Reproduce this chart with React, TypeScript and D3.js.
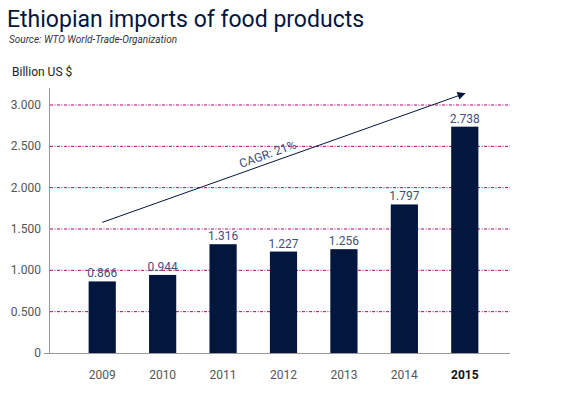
import * as React from 'react'
import * as d3 from 'd3'

const years = ['2009', '2010', '2011', '2012', '2013', '2014', '2015']
const imports = [0.866, 0.944, 1.316, 1.227, 1.256, 1.797, 2.738]
const yTicks = [0, 0.5, 1, 1.5, 2, 2.5, 3]
const tickLabels = ['0', '0.500', '1.000', '1.500', '2.000', '2.500', '3.000']
const cagrLabel = 'CAGR: 21%'
const cagrFrom = 1.58
const cagrTo = 3.14

const W = 583
const H = 398
const navy = '#03163d'
const grid = '#b0006e'

export default function App () {
    const x = d3.scaleBand<string>()
        .domain(years)
        .range([72, 495])
        .paddingInner(0.55)
        .paddingOuter(0.275)
    const y = d3.scaleLinear().domain([0, 3]).range([353, 105])

    const cx = (yr: string) => (x(yr) ?? 0) + x.bandwidth() / 2
    const x1 = cx(years[0]), y1 = y(cagrFrom)
    const x2 = cx(years[years.length - 1]), y2 = y(cagrTo)
    const angle = Math.atan2(y2 - y1, x2 - x1) * 180 / Math.PI
    const mx = x1 + (x2 - x1) * 0.46, my = y1 + (y2 - y1) * 0.46

    return <svg width={W} height={H} style={{ position: 'absolute', left: 0, top: 0, fontFamily: 'Roboto, sans-serif' }}>
        <defs>
            <marker id='arr' viewBox='0 0 10 10' refX='9' refY='5' markerWidth='11' markerHeight='8' orient='auto' markerUnits='userSpaceOnUse'>
                <path d='M0,0 L10,5 L0,10 z' fill={navy} />
            </marker>
        </defs>
        <rect width={W} height={H} fill='#fff' />
        <text x={7} y={27} fontSize={23} fill={navy}>Ethiopian imports of food products</text>
        <text x={9} y={43} fontSize={10} fontStyle='italic' fill='#333'>Source: WTO World-Trade-Organization</text>
        <text x={12} y={76} fontSize={12} fill='#222'>Billion US $</text>

        {yTicks.map((t, i) => <g key={t}>
            {t > 0 && <line x1={50} x2={510} y1={y(t)} y2={y(t)} stroke={grid} strokeWidth={1} strokeDasharray='3,1.5,1,1.5' />}
            <text x={41} y={y(t) + 4} fontSize={12} textAnchor='end' fill='#555'>{tickLabels[i]}</text>
        </g>)}
        <line x1={49.5} x2={49.5} y1={88} y2={353} stroke='#999' />
        <line x1={44} x2={510} y1={353.5} y2={353.5} stroke='#999' />

        {years.map((yr, i) => <g key={yr}>
            <rect x={x(yr)} y={y(imports[i])} width={x.bandwidth()} height={353 - y(imports[i])} fill={navy} />
            <text x={cx(yr)} y={y(imports[i]) - 4} fontSize={12} textAnchor='middle' fill='#3f4f7a'>{imports[i].toFixed(3)}</text>
            <text x={cx(yr)} y={379} fontSize={12} textAnchor='middle' fill={i === years.length - 1 ? '#111' : '#555'} fontWeight={i === years.length - 1 ? 'bold' : 'normal'}>{yr}</text>
        </g>)}

        <line x1={x1} y1={y1} x2={x2} y2={y2} stroke={navy} strokeWidth={1} markerEnd='url(#arr)' />
        <text transform={`translate(${mx},${my - 5}) rotate(${angle})`} fontSize={12} textAnchor='middle' fill='#3c4a7a'>{cagrLabel}</text>
    </svg>
}
